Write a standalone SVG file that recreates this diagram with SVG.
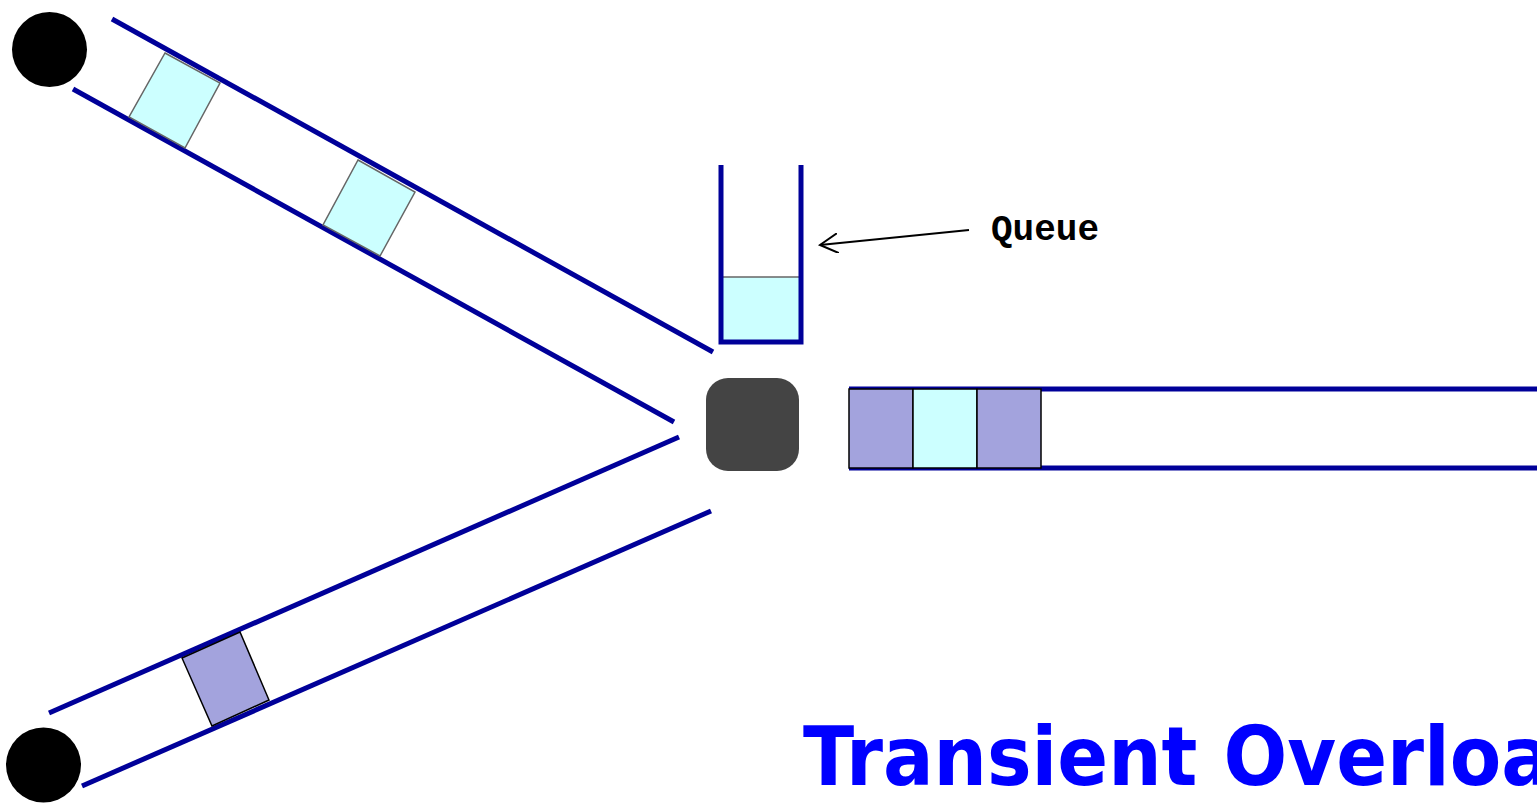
<svg xmlns="http://www.w3.org/2000/svg" width="1537" height="808" viewBox="0 0 1537 808">
<defs>
<style>
.wire{stroke:#000099;stroke-width:5;fill:none}
.pc{fill:#ccffff;stroke:#666666;stroke-width:1.5}
.pp{fill:#a3a3dd;stroke:#000000;stroke-width:1.5}
.host{fill:#000000}
.lbl{font-family:"Liberation Mono","Courier New",monospace;font-weight:bold;font-size:36px;fill:#000000}
.title{font-family:"DejaVu Sans",Verdana,sans-serif;font-weight:bold;font-size:82px;fill:#0000ff}
</style>
<marker id="open" viewBox="0 0 20 20" refX="18" refY="10" markerWidth="20" markerHeight="20" markerUnits="userSpaceOnUse" orient="auto">
<path d="M0,0 L18,10 L0,20" fill="none" stroke="#000" stroke-width="2"/>
</marker>
</defs>
<rect width="1537" height="808" fill="#ffffff"/>
<g id="connectors">
<line class="wire" x1="112" y1="19" x2="713" y2="352"/>
<line class="wire" x1="73" y1="89" x2="674" y2="422"/>
<line class="wire" x1="49" y1="713" x2="679" y2="437"/>
<line class="wire" x1="82" y1="786" x2="711" y2="511"/>
<line class="wire" x1="849" y1="389" x2="1537" y2="389"/>
<line class="wire" x1="849" y1="468" x2="1537" y2="468"/>
</g>
<g id="packets-top">
<polygon class="pc" points="165,53 220,83 185,148 129,117"/>
<polygon class="pc" points="358,160 415,192 380,256 323,225"/>
</g>
<g id="packets-bottom">
<polygon class="pp" points="182,658 240,632 269,700 212,726"/>
</g>
<g id="host-top"><circle class="host" cx="49.5" cy="49.5" r="37.5"/></g>
<g id="host-bottom"><circle class="host" cx="43.5" cy="765" r="37.5"/></g>
<g id="router"><rect x="706" y="378" width="93" height="93" rx="22" fill="#444444"/></g>
<g id="queue">
<rect class="pc" x="721" y="277" width="80" height="64"/>
<path class="wire" d="M721,165 V342 H801 V165"/>
</g>
<g id="output-packets">
<rect class="pp" x="849" y="389" width="64" height="79"/>
<rect class="pc" x="913" y="389" width="64" height="79" style="stroke:#000"/>
<rect class="pp" x="977" y="389" width="64" height="79"/>
</g>
<g id="queue-label">
<line x1="969" y1="230" x2="820" y2="245" stroke="#000" stroke-width="2" marker-end="url(#open)"/>
<text class="lbl" x="991" y="240">Queue</text>
</g>
<g id="title">
<text class="title" transform="translate(803,785) scale(0.915,1)">Transient Overload</text>
</g>
</svg>
